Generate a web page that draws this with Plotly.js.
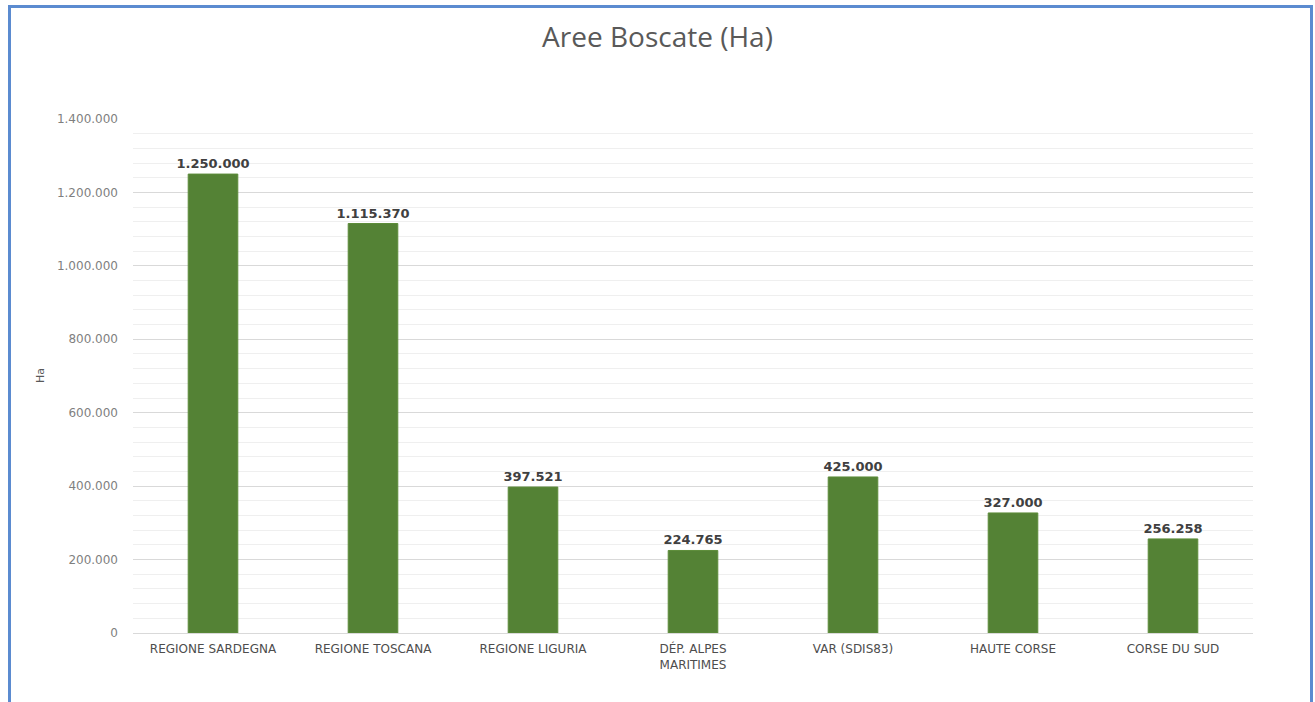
<!DOCTYPE html>
<html>
<head>
<meta charset="utf-8">
<script src="https://cdn.plot.ly/plotly-3.0.1.min.js"></script>
<style>
html,body{margin:0;padding:0;background:#fff;}
#wrap{position:relative;width:1315px;height:702px;overflow:hidden;}
#chart{width:1315px;height:702px;}
#frame{position:absolute;left:8px;top:5px;width:1305px;height:720px;border:3px solid #5b8bd0;pointer-events:none;box-sizing:border-box;}
</style>
</head>
<body>
<div id="wrap">
<div id="chart"></div>
<div id="frame"></div>
</div>
<script>
const categories = ["REGIONE SARDEGNA", "REGIONE TOSCANA", "REGIONE LIGURIA", "DÉP. ALPES<br>MARITIMES", "VAR (SDIS83)", "HAUTE CORSE", "CORSE DU SUD"];
const values = [1250000, 1115370, 397521, 224765, 425000, 327000, 256258];
const chartTitle = "Aree Boscate (Ha)";
const yTitle = "Ha";

const font = "'Open Sans', 'Liberation Sans', sans-serif";
const wide = "'DejaVu Sans', 'Open Sans', sans-serif";

const trace = {
  type: 'bar',
  x: categories,
  y: values,
  marker: {color: '#548235', line: {color: '#5d8c3a', width: 1}},
  text: values,
  texttemplate: '%{y:,d}',
  textposition: 'outside',
  constraintext: 'none',
  cliponaxis: false,
  textfont: {family: wide, size: 13, color: '#404040', weight: 'bold'},
  hoverinfo: 'x+y'
};

const layout = {
  width: 1315,
  height: 702,
  separators: ',.',
  margin: {l: 133, r: 62, t: 119, b: 69},
  paper_bgcolor: '#ffffff',
  plot_bgcolor: '#ffffff',
  bargap: 0.69,
  showlegend: false,
  title: {text: chartTitle, font: {family: font, size: 28, color: '#595959'}, x: 0.5, xanchor: 'center', y: 0.947, yanchor: 'middle'},
  xaxis: {
    type: 'category',
    tickfont: {family: wide, size: 12, color: '#4d4d4d'},
    showgrid: false,
    showline: true,
    linecolor: '#d9d9d9',
    linewidth: 1,
    ticks: '',
    ticklabelstandoff: 5
  },
  yaxis: {
    range: [0, 1400000],
    tickvals: [0, 200000, 400000, 600000, 800000, 1000000, 1200000, 1400000],
    tickformat: ',d',
    tickfont: {family: wide, size: 12, color: '#7f7f7f'},
    showgrid: true,
    gridcolor: '#d9d9d9',
    gridwidth: 1,
    zeroline: false,
    showline: false,
    ticks: '',
    ticklabelstandoff: 14,
    minor: {dtick: 40000, tick0: 0, showgrid: true, gridcolor: '#efefef', gridwidth: 1}
  },
  annotations: [{
    text: yTitle, xref: 'paper', yref: 'paper', x: (40 - 133) / 1120, y: 0.5,
    xanchor: 'center', yanchor: 'middle', textangle: -90, showarrow: false,
    font: {family: wide, size: 11, color: '#595959'}
  }]
};

Plotly.newPlot('chart', [trace], layout, {displayModeBar: false, staticPlot: true});
</script>
</body>
</html>
